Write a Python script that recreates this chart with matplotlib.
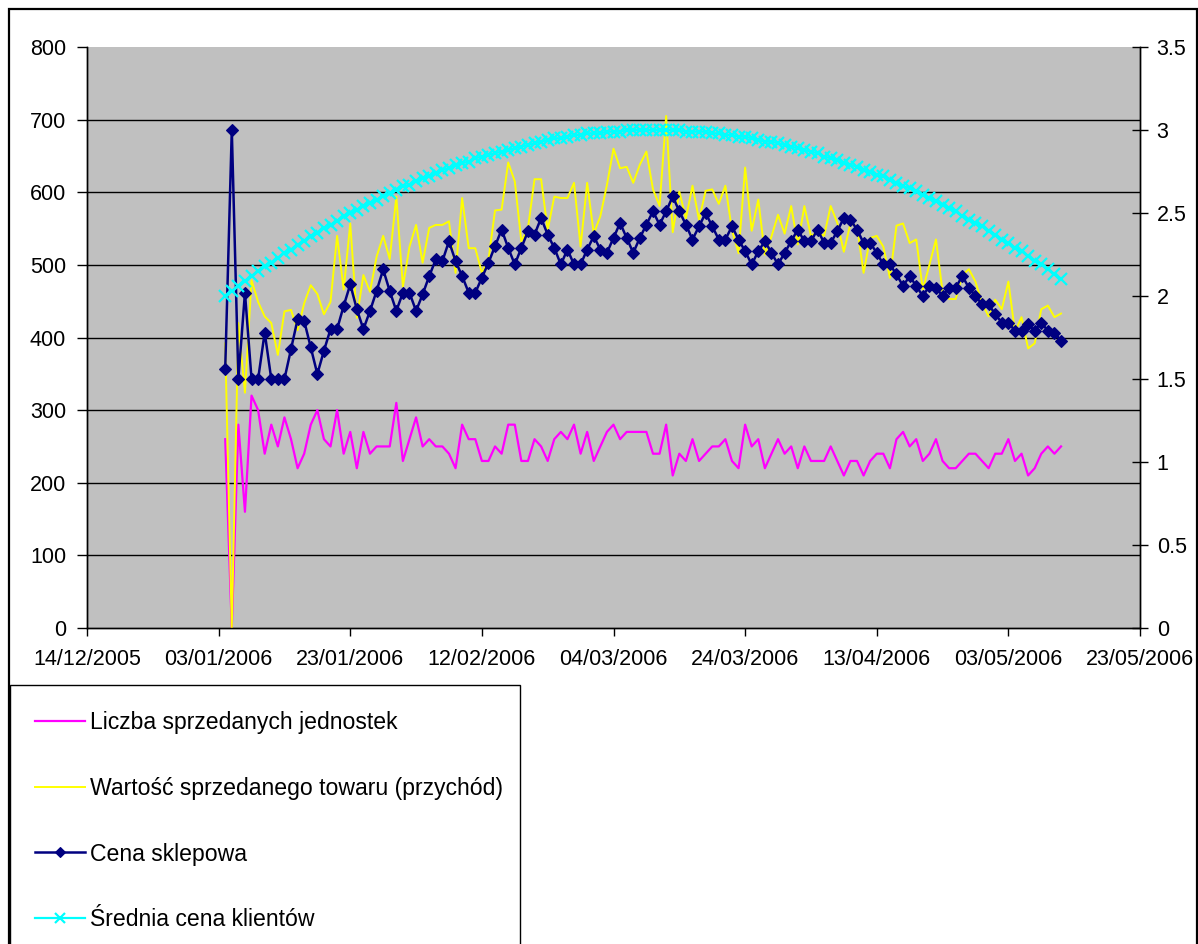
import matplotlib
matplotlib.use("Agg")
import matplotlib.pyplot as plt
import matplotlib.dates as mdates
from matplotlib.patches import Rectangle
import pandas as pd

plt.rcParams['font.family'] = ['Liberation Sans', 'DejaVu Sans']

# Daily observations starting 04/01/2006
start_date = "2006-01-04"
n_days = 128

units_sold = [
    260, 0, 280, 160, 320, 300, 240, 280, 250, 290, 260, 220, 240, 280, 300, 260,
    250, 300, 240, 270, 220, 270, 240, 250, 250, 250, 310, 230, 260, 290, 250, 260,
    250, 250, 240, 220, 280, 260, 260, 230, 230, 250, 240, 280, 280, 230, 230, 260,
    250, 230, 260, 270, 260, 280, 240, 270, 230, 250, 270, 280, 260, 270, 270, 270,
    270, 240, 240, 280, 210, 240, 230, 260, 230, 240, 250, 250, 260, 230, 220, 280,
    250, 260, 220, 240, 260, 240, 250, 220, 250, 230, 230, 230, 250, 230, 210, 230,
    230, 210, 230, 240, 240, 220, 260, 270, 250, 260, 230, 240, 260, 230, 220, 220,
    230, 240, 240, 230, 220, 240, 240, 260, 230, 240, 210, 220, 240, 250, 240, 250,
]

revenue = [
    392, 0, 420, 324, 479, 449, 429, 420, 376, 436, 438, 410, 447, 472, 460, 432,
    449, 540, 466, 557, 427, 486, 463, 511, 540, 508, 594, 470, 525, 555, 503, 551,
    555, 555, 560, 489, 592, 523, 523, 489, 507, 575, 576, 641, 615, 532, 550, 618,
    618, 548, 594, 592, 592, 613, 525, 613, 543, 567, 610, 660, 633, 635, 613, 638,
    656, 604, 581, 705, 545, 601, 564, 609, 562, 602, 604, 584, 609, 548, 516, 634,
    547, 590, 514, 539, 569, 543, 581, 528, 581, 540, 545, 540, 581, 558, 518, 557,
    553, 489, 537, 540, 525, 482, 554, 557, 530, 535, 466, 500, 535, 463, 453, 453,
    486, 494, 477, 447, 429, 452, 439, 477, 408, 428, 385, 392, 439, 444, 428, 433,
]

store_price = [
    1.56, 3.00, 1.50, 2.02, 1.50, 1.50, 1.78, 1.50, 1.50, 1.50, 1.68, 1.86, 1.85, 1.69, 1.53, 1.67,
    1.80, 1.80, 1.94, 2.07, 1.92, 1.80, 1.91, 2.03, 2.16, 2.03, 1.91, 2.02, 2.02, 1.91, 2.01, 2.12,
    2.22, 2.21, 2.33, 2.21, 2.12, 2.02, 2.02, 2.11, 2.20, 2.30, 2.40, 2.29, 2.19, 2.29, 2.39, 2.37,
    2.47, 2.37, 2.29, 2.19, 2.28, 2.19, 2.19, 2.28, 2.36, 2.28, 2.26, 2.35, 2.44, 2.35, 2.26, 2.35,
    2.43, 2.51, 2.43, 2.51, 2.60, 2.51, 2.43, 2.34, 2.42, 2.50, 2.42, 2.34, 2.34, 2.42, 2.34, 2.27,
    2.19, 2.27, 2.33, 2.26, 2.19, 2.26, 2.33, 2.40, 2.33, 2.33, 2.40, 2.32, 2.32, 2.39, 2.47, 2.46,
    2.40, 2.32, 2.32, 2.26, 2.19, 2.19, 2.13, 2.06, 2.12, 2.06, 2.00, 2.06, 2.05, 2.00, 2.05, 2.05,
    2.12, 2.05, 2.00, 1.95, 1.95, 1.89, 1.84, 1.84, 1.79, 1.79, 1.83, 1.79, 1.84, 1.79, 1.78, 1.73,
]

customer_price = [
    2.00, 2.03, 2.06, 2.09, 2.12, 2.15, 2.18, 2.20, 2.23, 2.26, 2.28, 2.31, 2.33, 2.36, 2.38, 2.41,
    2.43, 2.45, 2.48, 2.50, 2.52, 2.54, 2.56, 2.58, 2.60, 2.62, 2.64, 2.66, 2.67, 2.69, 2.71, 2.72,
    2.74, 2.76, 2.77, 2.79, 2.80, 2.81, 2.83, 2.84, 2.85, 2.86, 2.87, 2.88, 2.89, 2.90, 2.91, 2.92,
    2.93, 2.94, 2.95, 2.95, 2.96, 2.97, 2.97, 2.98, 2.98, 2.98, 2.99, 2.99, 2.99, 3.00, 3.00, 3.00,
    3.00, 3.00, 3.00, 3.00, 3.00, 3.00, 2.99, 2.99, 2.99, 2.99, 2.98, 2.98, 2.97, 2.97, 2.96, 2.96,
    2.95, 2.94, 2.93, 2.93, 2.92, 2.91, 2.90, 2.89, 2.88, 2.87, 2.86, 2.84, 2.83, 2.82, 2.80, 2.79,
    2.78, 2.76, 2.75, 2.73, 2.72, 2.70, 2.68, 2.66, 2.65, 2.63, 2.61, 2.59, 2.57, 2.55, 2.53, 2.51,
    2.48, 2.46, 2.44, 2.42, 2.39, 2.37, 2.34, 2.32, 2.29, 2.27, 2.24, 2.21, 2.19, 2.16, 2.13, 2.10,
]

series_labels = [
    "Liczba sprzedanych jednostek",
    "Wartość sprzedanego towaru (przychód)",
    "Cena sklepowa",
    "Średnia cena klientów",
]

left_ticks = [0, 100, 200, 300, 400, 500, 600, 700, 800]
right_ticks = [0, 0.5, 1, 1.5, 2, 2.5, 3, 3.5]
right_tick_labels = ["0", "0.5", "1", "1.5", "2", "2.5", "3", "3.5"]
x_tick_dates = ["2005-12-14", "2006-01-03", "2006-01-23", "2006-02-12", "2006-03-04",
                "2006-03-24", "2006-04-13", "2006-05-03", "2006-05-23"]

dates = pd.date_range(start_date, periods=n_days, freq="D")

W, H = 1198, 944
fig = plt.figure(figsize=(W / 100, H / 100), dpi=100)
fig.patch.set_facecolor("white")

ax = fig.add_axes([87 / W, 1 - 628 / H, (1140 - 87) / W, (628 - 47) / H])
ax.set_facecolor("#C0C0C0")
ax2 = ax.twinx()

fs = 15.5
l1, = ax.plot(dates, units_sold, color="#FF00FF", lw=1.6, zorder=3)
l2, = ax.plot(dates, revenue, color="#FFFF00", lw=1.4, zorder=4)
l3, = ax2.plot(dates, store_price, color="#000080", lw=1.8, marker="D",
               ms=6.5, mfc="#000080", mec="#000080", mew=0.8, zorder=5)
l4, = ax2.plot(dates, customer_price, color="#00FFFF", lw=1.6, marker="x",
               ms=8.5, mew=1.6, mec="#00FFFF", zorder=6)

xt = pd.to_datetime(x_tick_dates)
ax.set_xlim(xt[0], xt[-1])
ax.set_xticks(xt)
ax.xaxis.set_major_formatter(mdates.DateFormatter("%d/%m/%Y"))

ax.set_ylim(0, 800)
ax.set_yticks(left_ticks)
ax2.set_ylim(0, 3.5)
ax2.set_yticks(right_ticks)
ax2.set_yticklabels(right_tick_labels)

ax.yaxis.grid(True, color="black", lw=1.0)
ax.set_axisbelow(True)
for gl, v in zip(ax.get_ygridlines(), left_ticks):
    if v in (0, 800):
        gl.set_visible(False)

for a in (ax, ax2):
    a.spines["top"].set_visible(False)
    for s in ("left", "right", "bottom"):
        a.spines[s].set_color("black")
        a.spines[s].set_linewidth(1.0)

ax.tick_params(axis="y", direction="out", length=7, width=1, labelsize=fs, pad=8)
ax.tick_params(axis="x", direction="out", length=6, width=1, labelsize=fs, pad=9)
ax2.tick_params(axis="y", direction="inout", length=12, width=1, labelsize=fs, pad=6)

# outer chart frame and legend box
fig.add_artist(Rectangle((9 / W, -0.01), (1196.5 - 9) / W, 1 - 9 / H + 0.01,
                         transform=fig.transFigure, fill=False, ec="black", lw=1.6))
fig.add_artist(Rectangle((10 / W, -0.01), (520 - 10) / W, 1 - 685 / H + 0.01,
                         transform=fig.transFigure, fill=False, ec="black", lw=1.0))

leg = fig.legend([l1, l2, l3, l4], series_labels, loc="upper left",
                 bbox_to_anchor=(26 / W, 1 - 702 / H), frameon=False,
                 fontsize=16.6, handlelength=2.15, handletextpad=0.22,
                 labelspacing=1.85, borderaxespad=0, markerscale=0.85)

fig.savefig("out.png", dpi=100, facecolor="white")
